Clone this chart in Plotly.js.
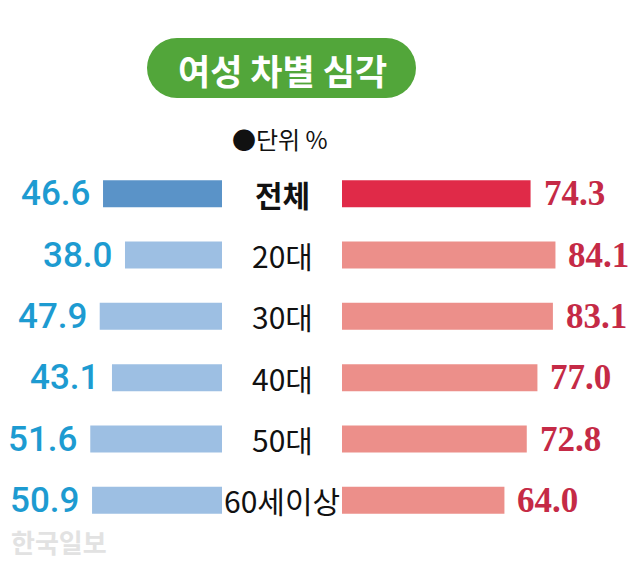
<!DOCTYPE html>
<html>
<head>
<meta charset="utf-8">
<script src="https://cdn.plot.ly/plotly-3.0.1.min.js"></script>
<style>
html,body{margin:0;padding:0;background:#fff;}
#chart{width:640px;height:566px;}
</style>
</head>
<body>
<div id="chart"></div>
<script>
// ---- data ----
const categories = ["전체", "20대", "30대", "40대", "50대", "60세이상"];
const leftValues = [46.6, 38.0, 47.9, 43.1, 51.6, 50.9];
const rightValues = [74.3, 84.1, 83.1, 77.0, 72.8, 64.0];
const titleText = "여성 차별 심각";
const unitText = "●단위 %";
const sourceText = "한국일보";

// ---- styles ----
const W = 640, H = 566;
const M = {l: 0, r: 0, t: 163, b: 35};
const PH = H - M.t - M.b;
const px = x => x / W;
const py = y => (H - M.b - y) / PH;

const leftColors = categories.map((c, i) => i === 0 ? "#5a93c8" : "#9dbfe3");
const rightColors = categories.map((c, i) => i === 0 ? "#e02a48" : "#ec8f8a");

const traces = [
  {type: "bar", orientation: "h", y: categories, x: leftValues, xaxis: "x", yaxis: "y",
   marker: {color: leftColors}, hoverinfo: "none"},
  {type: "bar", orientation: "h", y: categories, x: rightValues, xaxis: "x2", yaxis: "y",
   marker: {color: rightColors}, hoverinfo: "none"}
];

const annotations = [];
categories.forEach((c, i) => {
  annotations.push({xref: "x", yref: "y", x: leftValues[i], y: c, text: leftValues[i].toFixed(1),
    xanchor: "right", yanchor: "middle", xshift: -11, showarrow: false,
    font: {family: "Roboto, sans-serif", size: 35, color: "#1d9bd1", weight: 500}});
  annotations.push({xref: "x2", yref: "y", x: rightValues[i], y: c, text: rightValues[i].toFixed(1),
    xanchor: "left", yanchor: "middle", xshift: 11, showarrow: false,
    font: {family: "Liberation Serif, serif", size: 35, color: "#c52a46", weight: 700}});
  annotations.push({xref: "paper", yref: "y", x: px(282), y: c, text: c,
    xanchor: "center", yanchor: "middle", showarrow: false,
    font: {family: "Noto Sans CJK KR, sans-serif", size: 30, color: "#111", weight: i === 0 ? 700 : 400}});
});
annotations.push({xref: "paper", yref: "paper", x: px(282), y: py(69), text: titleText,
  xanchor: "center", yanchor: "middle", showarrow: false,
  font: {family: "Noto Sans CJK KR, sans-serif", size: 35, color: "#ffffff", weight: 700}});
annotations.push({xref: "paper", yref: "paper", x: px(280), y: py(139), text: unitText,
  xanchor: "center", yanchor: "middle", showarrow: false,
  font: {family: "Noto Sans CJK KR, sans-serif", size: 24, color: "#111"}});
annotations.push({xref: "paper", yref: "paper", x: px(9), y: py(541), text: sourceText,
  xanchor: "left", yanchor: "middle", showarrow: false,
  font: {family: "Noto Sans CJK KR, sans-serif", size: 26, color: "#e2e2e2", weight: 700}});

const green = "#52a63a";
const shapes = [
  {type: "circle", xref: "paper", yref: "paper", x0: px(147), x1: px(207), y0: py(98), y1: py(38),
   fillcolor: green, line: {width: 0}, layer: "below"},
  {type: "circle", xref: "paper", yref: "paper", x0: px(356), x1: px(416), y0: py(98), y1: py(38),
   fillcolor: green, line: {width: 0}, layer: "below"},
  {type: "rect", xref: "paper", yref: "paper", x0: px(177), x1: px(386), y0: py(98), y1: py(38),
   fillcolor: green, line: {width: 0}, layer: "below"}
];

const layout = {
  width: W, height: H, margin: M,
  paper_bgcolor: "#ffffff", plot_bgcolor: "#ffffff",
  showlegend: false, bargap: 0.56,
  xaxis: {domain: [0, px(222)], range: [222 / 2.553, 0], visible: false, fixedrange: true},
  xaxis2: {domain: [px(342), 1], range: [0, 298 / 2.538], visible: false, fixedrange: true, anchor: "y"},
  yaxis: {type: "category", range: [5.5, -0.5], visible: false, fixedrange: true},
  annotations: annotations,
  shapes: shapes
};

Plotly.newPlot("chart", traces, layout, {displayModeBar: false, staticPlot: true});
</script>
</body>
</html>
